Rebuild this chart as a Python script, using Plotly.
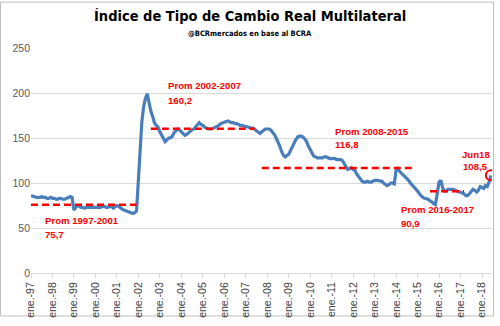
import pandas as pd
import plotly.graph_objects as go

# Monthly real multilateral exchange rate index (ITCRM), Jan 1997 - Jun 2018
years = list(range(1997, 2019))
itcrm_by_year = {
    1997: [86, 85, 85, 84, 84, 84, 85, 84, 84, 83, 83, 84],
    1998: [83, 83, 82, 82, 83, 82, 82, 82, 83, 84, 85, 84],
    1999: [70, 73, 75, 74, 73, 73, 72, 73, 73, 73, 73, 73],
    2000: [73, 73, 73, 73, 74, 74, 73, 73, 74, 74, 72, 73],
    2001: [75, 74, 72, 71, 70, 69, 69, 68, 67, 66, 67, 69],
    2002: [103, 135, 168, 185, 194, 199, 187, 180, 174, 167, 164, 162],
    2003: [157, 153, 149, 146, 148, 150, 150, 152, 156, 158, 160, 159],
    2004: [157, 155, 153, 154, 156, 158, 159, 160, 162, 164, 167, 165],
    2005: [164, 162, 161, 160, 160, 160, 161, 162, 163, 164, 166, 167],
    2006: [168, 169, 169, 168, 167, 167, 166, 166, 165, 164, 164, 163],
    2007: [163, 162, 162, 161, 161, 160, 158, 156, 155, 157, 159, 160],
    2008: [160, 160, 159, 157, 154, 150, 146, 141, 135, 131, 129, 130],
    2009: [132, 136, 140, 144, 148, 151, 152, 152, 151, 149, 146, 141],
    2010: [137, 133, 130, 129, 128, 128, 128, 128, 129, 129, 128, 127],
    2011: [127, 127, 127, 126, 126, 126, 125, 121, 117, 115, 116, 117],
    2012: [115, 114, 110, 107, 104, 102, 101, 101, 102, 101, 101, 102],
    2013: [103, 103, 103, 102, 102, 100, 98, 97, 98, 100, 100, 99],
    2014: [114, 116, 113, 111, 110, 108, 106, 103, 100, 98, 95, 93],
    2015: [91, 88, 86, 84, 83, 82, 82, 80, 79, 77, 76, 88],
    2016: [101, 103, 95, 91, 91, 93, 93, 93, 93, 92, 91, 90],
    2017: [90, 89, 88, 86, 86, 88, 91, 93, 92, 90, 92, 96],
    2018: [95, 94, 97, 96, 101, 108.5],
}

dates = []
values = []
for y in years:
    for i, v in enumerate(itcrm_by_year[y]):
        dates.append(pd.Timestamp(year=y, month=i + 1, day=1))
        values.append(v)

# Period averages
avg_labels = ["Prom 1997-2001", "Prom 2002-2007", "Prom 2008-2015", "Prom 2016-2017"]
avg_values = [75.7, 160.2, 116.8, 90.9]
avg_starts = ["1997-01-01", "2002-08-01", "2007-10-01", "2015-08-01"]
avg_ends = ["2001-12-01", "2007-06-01", "2014-11-01", "2017-03-01"]

last_label = "Jun18"
last_date = dates[-1]
last_value = values[-1]

tick_dates = [f"{y}-01-01" for y in range(1997, 2019)]
tick_text = [f"ene.-{str(y)[2:]}" for y in range(1997, 2019)]

W, H = 500, 326
ML, MR, MT, MB = 31, 8, 48, 45
PW, PH = W - ML - MR, H - MT - MB


def px(x, y):
    """Pixel position -> paper coordinates."""
    return (x - ML) / PW, (H - MB - y) / PH


fig = go.Figure()

fig.add_trace(go.Scatter(
    x=dates, y=values, mode="lines",
    line=dict(color="#4a7ebb", width=3.2),
    hoverinfo="skip", showlegend=False,
))

for s, e, v in zip(avg_starts, avg_ends, avg_values):
    fig.add_trace(go.Scatter(
        x=[s, e], y=[v, v], mode="lines",
        line=dict(color="#ff0000", width=2.5, dash="7px,4px"),
        hoverinfo="skip", showlegend=False,
    ))

fig.add_trace(go.Scatter(
    x=[last_date], y=[last_value], mode="markers",
    marker=dict(symbol="circle-open", size=10, color="#ff0000",
                line=dict(color="#ff0000", width=2)),
    hoverinfo="skip", showlegend=False,
))

red_font = dict(family="Liberation Sans, Arial, sans-serif", size=9.6, color="#ff0000")


def fmt(v):
    return f"{v:.1f}".replace(".", ",")


label_pos = [(43, 226.7, 240.7), (166, 87.3, 102), (333, 134.3, 147.7), (399, 215.7, 229.3)]
for (lx, y1, y2), lab, v in zip(label_pos, avg_labels, avg_values):
    for text, yy in ((lab, y1), (fmt(v), y2)):
        ax_, ay_ = px(lx, yy)
        fig.add_annotation(x=ax_, y=ay_, xref="paper", yref="paper", text=f"<b>{text}</b>",
                           showarrow=False, xanchor="left", yanchor="middle", font=red_font)

for text, yy in ((last_label, 158.3), (fmt(last_value), 170.7)):
    ax_, ay_ = px(475.5, yy)
    fig.add_annotation(x=ax_, y=ay_, xref="paper", yref="paper", text=f"<b>{text}</b>",
                       showarrow=False, xanchor="center", yanchor="middle", font=red_font)

# Title and source line
tx, ty = px(250, 15)
fig.add_annotation(x=tx, y=ty, xref="paper", yref="paper",
                   text="<b>Índice de Tipo de Cambio Real Multilateral</b>",
                   showarrow=False, xanchor="center", yanchor="middle",
                   font=dict(family="Liberation Sans Narrow, DejaVu Sans Condensed, sans-serif",
                             size=14.5, color="#000000"))
sx, sy = px(250, 33)
fig.add_annotation(x=sx, y=sy, xref="paper", yref="paper",
                   text="<b>@BCRmercados en base al BCRA</b>",
                   showarrow=False, xanchor="center", yanchor="middle",
                   font=dict(family="Liberation Sans Narrow, DejaVu Sans Condensed, sans-serif",
                             size=7.5, color="#000000"))

# Chart border
bx0, by0 = px(0.5, 325.5)
bx1, by1 = px(493.5, 0.5)
fig.add_shape(type="rect", xref="paper", yref="paper", x0=bx0, y0=by0, x1=bx1, y1=by1,
              line=dict(color="#bfbfbf", width=1), fillcolor="rgba(0,0,0,0)", layer="below")

fig.update_layout(
    width=W, height=H,
    margin=dict(l=ML, r=MR, t=MT, b=MB),
    paper_bgcolor="white", plot_bgcolor="white",
    font=dict(family="Liberation Sans, Arial, sans-serif", size=10, color="#595959"),
    xaxis=dict(
        type="date", range=["1997-01-01", "2018-06-20"],
        tickmode="array", tickvals=tick_dates, ticktext=tick_text,
        tickangle=-90, tickfont=dict(size=10.5, color="#404040"),
        showgrid=False, zeroline=False,
        showline=True, linecolor="#d9d9d9", linewidth=1,
        ticks="outside", ticklen=4, tickcolor="#d9d9d9",
    ),
    yaxis=dict(
        range=[0, 250], tickmode="array", tickvals=[0, 50, 100, 150, 200, 250],
        showgrid=True, gridcolor="#d9d9d9", gridwidth=1,
        zeroline=False, showline=False, ticks="",
        tickfont=dict(size=10.5, color="#595959"),
    ),
)

fig.write_html("out.html")
